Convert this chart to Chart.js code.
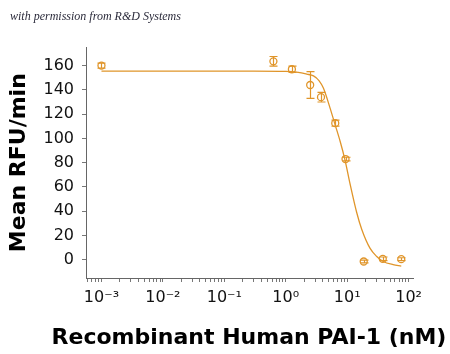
<!DOCTYPE html>
<html>
<head>
<meta charset="utf-8">
<script src="https://cdn.jsdelivr.net/npm/chart.js@4/dist/chart.umd.min.js"></script>
<style>
  html, body { margin: 0; padding: 0; background: #fff; }
</style>
</head>
<body>
<canvas id="myChart" width="450" height="354"></canvas>
<script>
// measured points (nM, mean RFU/min, error)
const concentrations = [0.001, 0.63, 1.26, 2.5, 3.75, 6.4, 9.4, 18.6, 38, 76];
const meanRfu = [160, 163.5, 157, 144, 134, 112.6, 83, -1.4, 0.8, 0.5];
const rfuErr = [2, 4, 2.5, 11, 4, 2.5, 1.5, 1.2, 1.5, 1.2];

// fitted curve
const fitX = [0.001, 0.3, 1.0, 1.6, 2.2, 2.83, 3.5, 4.1, 5.27, 6.3, 7.7, 9.25, 11.1, 14.3, 17.3, 23.5, 30.3, 38.7, 56, 76];
const fitY = [155.5, 155.5, 155.3, 154.5, 153, 151.5, 147.5, 141.5, 125, 112, 97.5, 82, 63, 39, 25, 9.6, 2.7, -1.4, -4, -5.2];

const xTickValues = [0.001, 0.01, 0.1, 1, 10, 100];
const xTickLabels = ['10⁻³', '10⁻²', '10⁻¹', '10⁰', '10¹', '10²'];
const yTickValues = [0, 20, 40, 60, 80, 100, 120, 140, 160];
const xTitle = 'Recombinant Human PAI-1 (nM)';

const orange = '#E0952A';
const sans = '"DejaVu Sans", sans-serif';

const errorBars = {
    id: 'errorBars',
    afterDatasetsDraw(chart) {
        const ctx = chart.ctx;
        const xs = chart.scales.x;
        const ys = chart.scales.y;
        ctx.save();
        ctx.strokeStyle = orange;
        ctx.lineWidth = 1.2;
        concentrations.forEach((c, i) => {
            const px = Math.round(xs.getPixelForValue(c)) + 0.5;
            const top = ys.getPixelForValue(meanRfu[i] + rfuErr[i]);
            const bot = ys.getPixelForValue(meanRfu[i] - rfuErr[i]);
            ctx.beginPath();
            ctx.moveTo(px, top);
            ctx.lineTo(px, bot);
            ctx.moveTo(px - 4, top);
            ctx.lineTo(px + 4, top);
            ctx.moveTo(px - 4, bot);
            ctx.lineTo(px + 4, bot);
            ctx.stroke();
        });
        ctx.restore();
    }
};

// x title is wider than the axis, so the scale title would squeeze it
const wideXTitle = {
    id: 'wideXTitle',
    afterDraw(chart) {
        const ctx = chart.ctx;
        ctx.save();
        ctx.font = 'bold 22px ' + sans;
        ctx.fillStyle = '#000';
        ctx.textAlign = 'center';
        ctx.textBaseline = 'middle';
        ctx.fillText(xTitle, 249, 338);
        ctx.restore();
    }
};

const ctx = document.getElementById('myChart');
new Chart(ctx, {
    type: 'scatter',
    data: {
        datasets: [{
            label: 'fit',
            data: fitX.map((x, i) => ({ x: x, y: fitY[i] })),
            showLine: true,
            borderColor: orange,
            borderWidth: 1.3,
            pointRadius: 0,
            cubicInterpolationMode: 'monotone'
        }, {
            label: 'Mean RFU/min',
            data: concentrations.map((x, i) => ({ x: x, y: meanRfu[i] })),
            showLine: false,
            borderColor: orange,
            backgroundColor: 'rgba(0,0,0,0)',
            borderWidth: 1.3,
            pointRadius: 3.5
        }]
    },
    options: {
        responsive: false,
        animation: false,
        layout: { padding: { left: 10, right: 37, top: 0, bottom: 0 } },
        plugins: {
            legend: { display: false },
            tooltip: { enabled: false },
            title: {
                display: true,
                text: 'with permission from R&D Systems',
                align: 'start',
                color: '#2b2b3b',
                font: { family: '"Liberation Serif", serif', style: 'italic', weight: 'normal', size: 12 },
                padding: { top: 10, bottom: 23 }
            }
        },
        scales: {
            x: {
                type: 'logarithmic',
                min: 0.00056,
                max: 118,
                afterBuildTicks(axis) {
                    const ticks = [];
                    for (let e = -4; e <= 2; e++) {
                        for (let k = 1; k <= 9; k++) {
                            const v = k * Math.pow(10, e);
                            if (v >= axis.min && v <= axis.max) ticks.push({ value: v });
                        }
                    }
                    axis.ticks = ticks;
                },
                afterFit(axis) { axis.height = 76; },
                border: { display: true, color: '#666', width: 1 },
                grid: { drawOnChartArea: false, drawTicks: true, tickLength: 4, color: '#777' },
                ticks: {
                    autoSkip: false,
                    maxRotation: 0,
                    padding: 6,
                    color: '#111',
                    font: { family: sans, size: 16 },
                    callback(value) {
                        const idx = xTickValues.findIndex(t => Math.abs(Math.log10(t) - Math.log10(value)) < 1e-6);
                        return idx >= 0 ? xTickLabels[idx] : '';
                    }
                },
                title: { display: false }
            },
            y: {
                min: -15,
                max: 175,
                afterBuildTicks(axis) {
                    axis.ticks = yTickValues.map(v => ({ value: v }));
                },
                afterFit(axis) { axis.width = 76; },
                border: { display: true, color: '#666', width: 1 },
                grid: { drawOnChartArea: false, drawTicks: true, tickLength: 4, color: '#777' },
                ticks: {
                    padding: 8,
                    color: '#111',
                    font: { family: sans, size: 16 }
                },
                title: {
                    display: true,
                    text: 'Mean RFU/min',
                    color: '#000',
                    font: { family: sans, weight: 'bold', size: 22, lineHeight: 0.8 },
                    padding: { top: 0, bottom: 0 }
                }
            }
        }
    },
    plugins: [errorBars, wideXTitle]
});
</script>
</body>
</html>
